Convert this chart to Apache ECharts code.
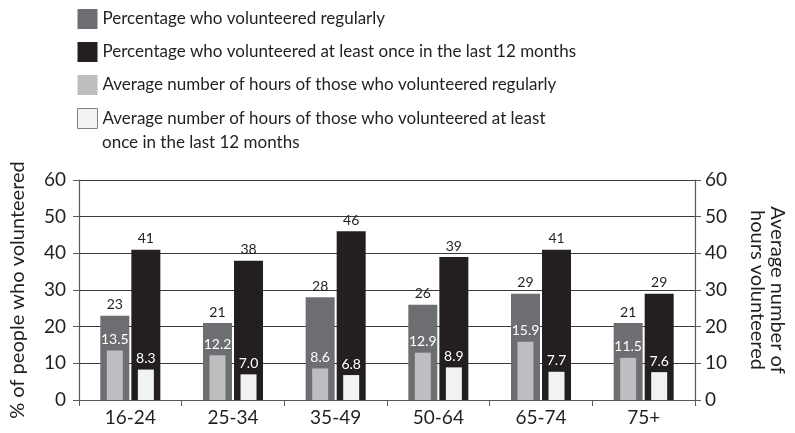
<!DOCTYPE html>
<html>
<head>
<meta charset="utf-8">
<script src="https://cdn.jsdelivr.net/npm/echarts@6/dist/echarts.min.js"></script>
<style>
  html, body { margin: 0; padding: 0; background: #fff; }
  #chart { width: 795px; height: 433px; }
</style>
</head>
<body>
<div id="chart"></div>
<script>
const ageGroups = ["16-24", "25-34", "35-49", "50-64", "65-74", "75+"];
const pctRegular = [23, 21, 28, 26, 29, 21];
const pctOnce = [41, 38, 46, 39, 41, 29];
const hoursRegular = [13.5, 12.2, 8.6, 12.9, 15.9, 11.5];
const hoursOnce = [8.3, 7.0, 6.8, 8.9, 7.7, 7.6];
const axisTicks = [0, 10, 20, 30, 40, 50, 60];

const names = [
  "Percentage who volunteered regularly",
  "Percentage who volunteered at least once in the last 12 months",
  "Average number of hours of those who volunteered regularly",
  "Average number of hours of those who volunteered at least\nonce in the last 12 months",
];

const FONT = "Lato";
const INK = "#231f20";

const chart = echarts.init(document.getElementById("chart"));

const valueAxis = (pos, name) => ({
  type: "value",
  position: pos,
  min: axisTicks[0],
  max: axisTicks[axisTicks.length - 1],
  interval: 10,
  name: name,
  nameLocation: "middle",
  nameRotate: pos === "right" ? -90 : 90,
  nameGap: pos === "right" ? 52 : 51,
  nameTextStyle: { fontFamily: FONT, fontSize: 20, color: INK, lineHeight: 20 },
  axisLine: { show: true, lineStyle: { color: "#58595b", width: 1.2 } },
  axisTick: { show: true, length: 6, lineStyle: { color: "#58595b" } },
  axisLabel: {
    fontFamily: FONT, fontSize: 19, color: INK,
    margin: pos === "right" ? 10 : 13,
  },
  splitLine: { show: pos === "left", lineStyle: { color: "#3a3a3a", width: 1 } },
});

const labelStyle = (color, size) => ({
  show: true,
  position: "top",
  distance: 4,
  fontFamily: FONT,
  fontSize: size,
  color: color,
  formatter: (p) => p.seriesIndex >= 2 ? p.value.toFixed(1) : String(p.value),
});

chart.setOption({
  animation: false,
  textStyle: { fontFamily: FONT },
  legend: {
    orient: "vertical",
    left: 77,
    top: 9,
    padding: 0,
    itemWidth: 20,
    itemHeight: 20,
    itemGap: 13,
    icon: "rect",
    selectedMode: false,
    // the wrapped second line of the last entry is drawn under it (graphic below)
    formatter: (name) => name.split("\n")[0],
    textStyle: { fontFamily: FONT, fontSize: 17, color: INK },
    data: [
      { name: names[0] },
      { name: names[1] },
      { name: names[2] },
      { name: names[3], itemStyle: { borderColor: "#808285", borderWidth: 1 } },
    ],
  },
  graphic: [
    {
      type: "text",
      left: 102,
      top: 134,
      style: {
        text: names[3].split("\n")[1],
        fontFamily: FONT, fontSize: 17, fill: INK,
      },
    },
  ],
  grid: { left: 76, right: 93, top: 180, bottom: 33 },
  xAxis: [
    {
      type: "category",
      data: ageGroups,
      axisLine: { lineStyle: { color: "#58595b", width: 1.2 } },
      axisTick: { show: true, length: 6, lineStyle: { color: "#58595b" } },
      axisLabel: { fontFamily: FONT, fontSize: 19, color: INK, margin: 8 },
    },
    { type: "category", data: ageGroups, show: false },
  ],
  yAxis: [
    valueAxis("left", "% of people who volunteered"),
    valueAxis("right", "Average number of\nhours volunteered"),
  ],
  series: [
    {
      name: names[0], type: "bar", data: pctRegular,
      xAxisIndex: 0, yAxisIndex: 0,
      barWidth: 29, barGap: "7%",
      itemStyle: { color: "#6d6e71" },
      label: labelStyle(INK, 14),
    },
    {
      name: names[1], type: "bar", data: pctOnce,
      xAxisIndex: 0, yAxisIndex: 0,
      barWidth: 29, barGap: "7%",
      itemStyle: { color: INK },
      label: labelStyle(INK, 14),
    },
    {
      name: names[2], type: "bar", data: hoursRegular,
      xAxisIndex: 1, yAxisIndex: 1,
      barWidth: 16, barGap: "94%",
      itemStyle: { color: "#bcbec0" },
      label: labelStyle("#ffffff", 14),
    },
    {
      name: names[3], type: "bar", data: hoursOnce,
      xAxisIndex: 1, yAxisIndex: 1,
      barWidth: 16, barGap: "94%",
      itemStyle: { color: "#f1f2f2" },
      label: labelStyle("#ffffff", 14),
    },
  ],
});
</script>
</body>
</html>
